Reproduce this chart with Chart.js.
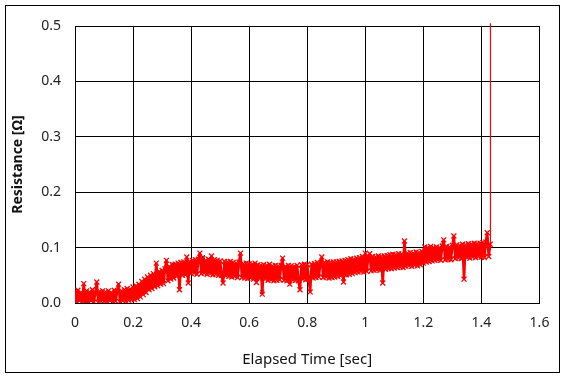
<!DOCTYPE html>
<html>
<head>
<meta charset="utf-8">
<script src="https://cdn.jsdelivr.net/npm/chart.js@4/dist/chart.umd.min.js"></script>
<style>
html,body{margin:0;padding:0;background:#fff;}
#wrap{width:566px;height:378px;position:relative;}
</style>
</head>
<body>
<div id="wrap"><canvas id="c" width="566" height="378"></canvas></div>
<script>
// Sampling grid of the recording (seconds)
const startTime = 0;
const sampleStep = 0.005;

// Resistance readings [Ω], one per sample
const resistance = [
  0.021,0.002,0.023,0.004,0.019,0.001,0.035,0.003,0.022,0.000,0.020,0.004,0.024,0.002,0.018,0.038,0.001,0.021,0.003,0.022,
  0.003,0.020,0.001,0.022,0.004,0.019,0.002,0.023,0.003,0.021,0.034,0.002,0.022,0.004,0.024,0.003,0.026,0.005,0.025,0.006,
  0.029,0.006,0.031,0.008,0.034,0.011,0.039,0.015,0.043,0.019,0.047,0.024,0.050,0.026,0.053,0.029,0.072,0.031,0.057,0.034,
  0.059,0.035,0.062,0.077,0.040,0.066,0.043,0.069,0.045,0.070,0.048,0.072,0.024,0.073,0.050,0.074,0.051,0.083,0.036,0.075,
  0.053,0.077,0.054,0.078,0.052,0.079,0.090,0.053,0.080,0.054,0.077,0.052,0.079,0.053,0.085,0.051,0.078,0.052,0.077,0.050,
  0.076,0.050,0.036,0.075,0.049,0.074,0.048,0.075,0.047,0.073,0.048,0.072,0.046,0.074,0.090,0.046,0.071,0.045,0.072,0.044,
  0.071,0.045,0.070,0.043,0.072,0.037,0.069,0.044,0.068,0.016,0.069,0.043,0.068,0.041,0.070,0.042,0.067,0.040,0.068,0.041,
  0.067,0.042,0.068,0.081,0.041,0.066,0.040,0.068,0.034,0.067,0.042,0.066,0.041,0.068,0.040,0.024,0.069,0.043,0.070,0.042,
  0.069,0.043,0.020,0.070,0.045,0.071,0.046,0.073,0.047,0.072,0.083,0.046,0.073,0.047,0.074,0.045,0.073,0.046,0.074,0.047,
  0.074,0.048,0.075,0.049,0.076,0.038,0.077,0.051,0.078,0.052,0.080,0.053,0.079,0.055,0.081,0.056,0.082,0.057,0.084,0.056,
  0.090,0.057,0.083,0.089,0.058,0.084,0.059,0.083,0.060,0.085,0.059,0.084,0.036,0.085,0.061,0.086,0.062,0.087,0.062,0.088,
  0.063,0.087,0.064,0.089,0.065,0.088,0.064,0.112,0.066,0.090,0.067,0.091,0.066,0.090,0.068,0.092,0.067,0.091,0.069,0.093,
  0.072,0.101,0.074,0.100,0.075,0.102,0.076,0.100,0.077,0.101,0.078,0.100,0.077,0.103,0.114,0.078,0.102,0.079,0.101,0.078,
  0.104,0.121,0.080,0.105,0.081,0.104,0.080,0.106,0.043,0.105,0.082,0.107,0.081,0.106,0.083,0.108,0.082,0.107,0.084,0.108,
  0.083,0.109,0.082,0.110,0.127,0.084,0.106
];

// Secondary (black) readings, mostly hidden under the red trace
const refTimes = [0.035, 0.340, 0.400, 0.440, 0.645, 0.930];
const refValues = [0.002, 0.069, 0.054, 0.083, 0.020, 0.050];

// Final cut-off spike
const spikeTimes = [1.431, 1.431];
const spikeValues = [0.095, 0.505];

// Axis ticks
const xTicks = [0, 0.2, 0.4, 0.6, 0.8, 1, 1.2, 1.4, 1.6];
const yTicks = [0, 0.1, 0.2, 0.3, 0.4, 0.5];

const mainPts = resistance.map((v, i) => ({x: +(startTime + i * sampleStep).toFixed(3), y: v}));
const refPts = refTimes.map((t, i) => ({x: t, y: refValues[i]}));
const spikePts = spikeTimes.map((t, i) => ({x: t, y: spikeValues[i]}));

const frame = {
  id: 'frame',
  beforeDraw(chart) {
    const ctx = chart.ctx;
    ctx.save();
    ctx.fillStyle = '#fff';
    ctx.fillRect(0, 0, chart.width, chart.height);
    ctx.restore();
  },
  afterDraw(chart) {
    const ctx = chart.ctx;
    ctx.save();
    ctx.strokeStyle = '#000';
    ctx.lineWidth = 1;
    ctx.strokeRect(5.5, 5.5, 554, 367);
    ctx.restore();
  }
};

const FONT = "'Noto Sans', 'DejaVu Sans', sans-serif";

new Chart(document.getElementById('c'), {
  type: 'scatter',
  data: {
    datasets: [
      {
        label: 'Resistance',
        data: mainPts,
        showLine: true,
        borderColor: '#ff0000',
        backgroundColor: '#ff0000',
        borderWidth: 2.6,
        borderJoinStyle: 'bevel',
        pointStyle: 'crossRot',
        pointRadius: 3.5,
        pointBorderWidth: 1.3,
        pointBorderColor: '#ff0000',
        tension: 0
      },
      {
        label: 'Spike',
        data: spikePts,
        showLine: true,
        borderColor: '#ff0000',
        borderWidth: 1.2,
        pointRadius: 0,
        clip: false
      },
      {
        label: 'Reference',
        data: refPts,
        showLine: false,
        borderColor: '#000',
        backgroundColor: '#000',
        pointStyle: 'crossRot',
        pointRadius: 3,
        pointBorderWidth: 1
      }
    ]
  },
  options: {
    responsive: false,
    animation: false,
    devicePixelRatio: 1,
    layout: { padding: { left: 0, right: 26.5, top: 26, bottom: 0 } },
    plugins: { legend: { display: false }, tooltip: { enabled: false } },
    scales: {
      x: {
        type: 'linear',
        min: 0, max: 1.6,
        afterBuildTicks(s) { s.ticks = xTicks.map(v => ({value: v})); },
        afterFit(s) { s.height = 75; },
        grid: { color: '#000', lineWidth: 1, drawTicks: false },
        border: { color: '#000', width: 1 },
        ticks: { color: '#222', font: { family: FONT, size: 14 }, padding: 12,
                 callback: v => String(v) },
        title: { display: true, text: 'Elapsed Time [sec]', color: '#111',
                 font: { family: FONT, size: 15 }, padding: { top: 0, bottom: 9 } }
      },
      y: {
        type: 'linear',
        min: 0, max: 0.5,
        afterBuildTicks(s) { s.ticks = yTicks.map(v => ({value: v})); },
        afterFit(s) { s.width = 75; },
        grid: { color: '#000', lineWidth: 1, drawTicks: false },
        border: { color: '#000', width: 1 },
        ticks: { color: '#222', font: { family: FONT, size: 14 }, padding: 14,
                 callback: v => v.toFixed(1) },
        title: { display: true, text: 'Resistance [Ω]', color: '#111',
                 font: { family: FONT, size: 14, weight: 'bold' }, padding: { top: 10, bottom: 0 } }
      }
    }
  },
  plugins: [frame]
});
</script>
</body>
</html>
